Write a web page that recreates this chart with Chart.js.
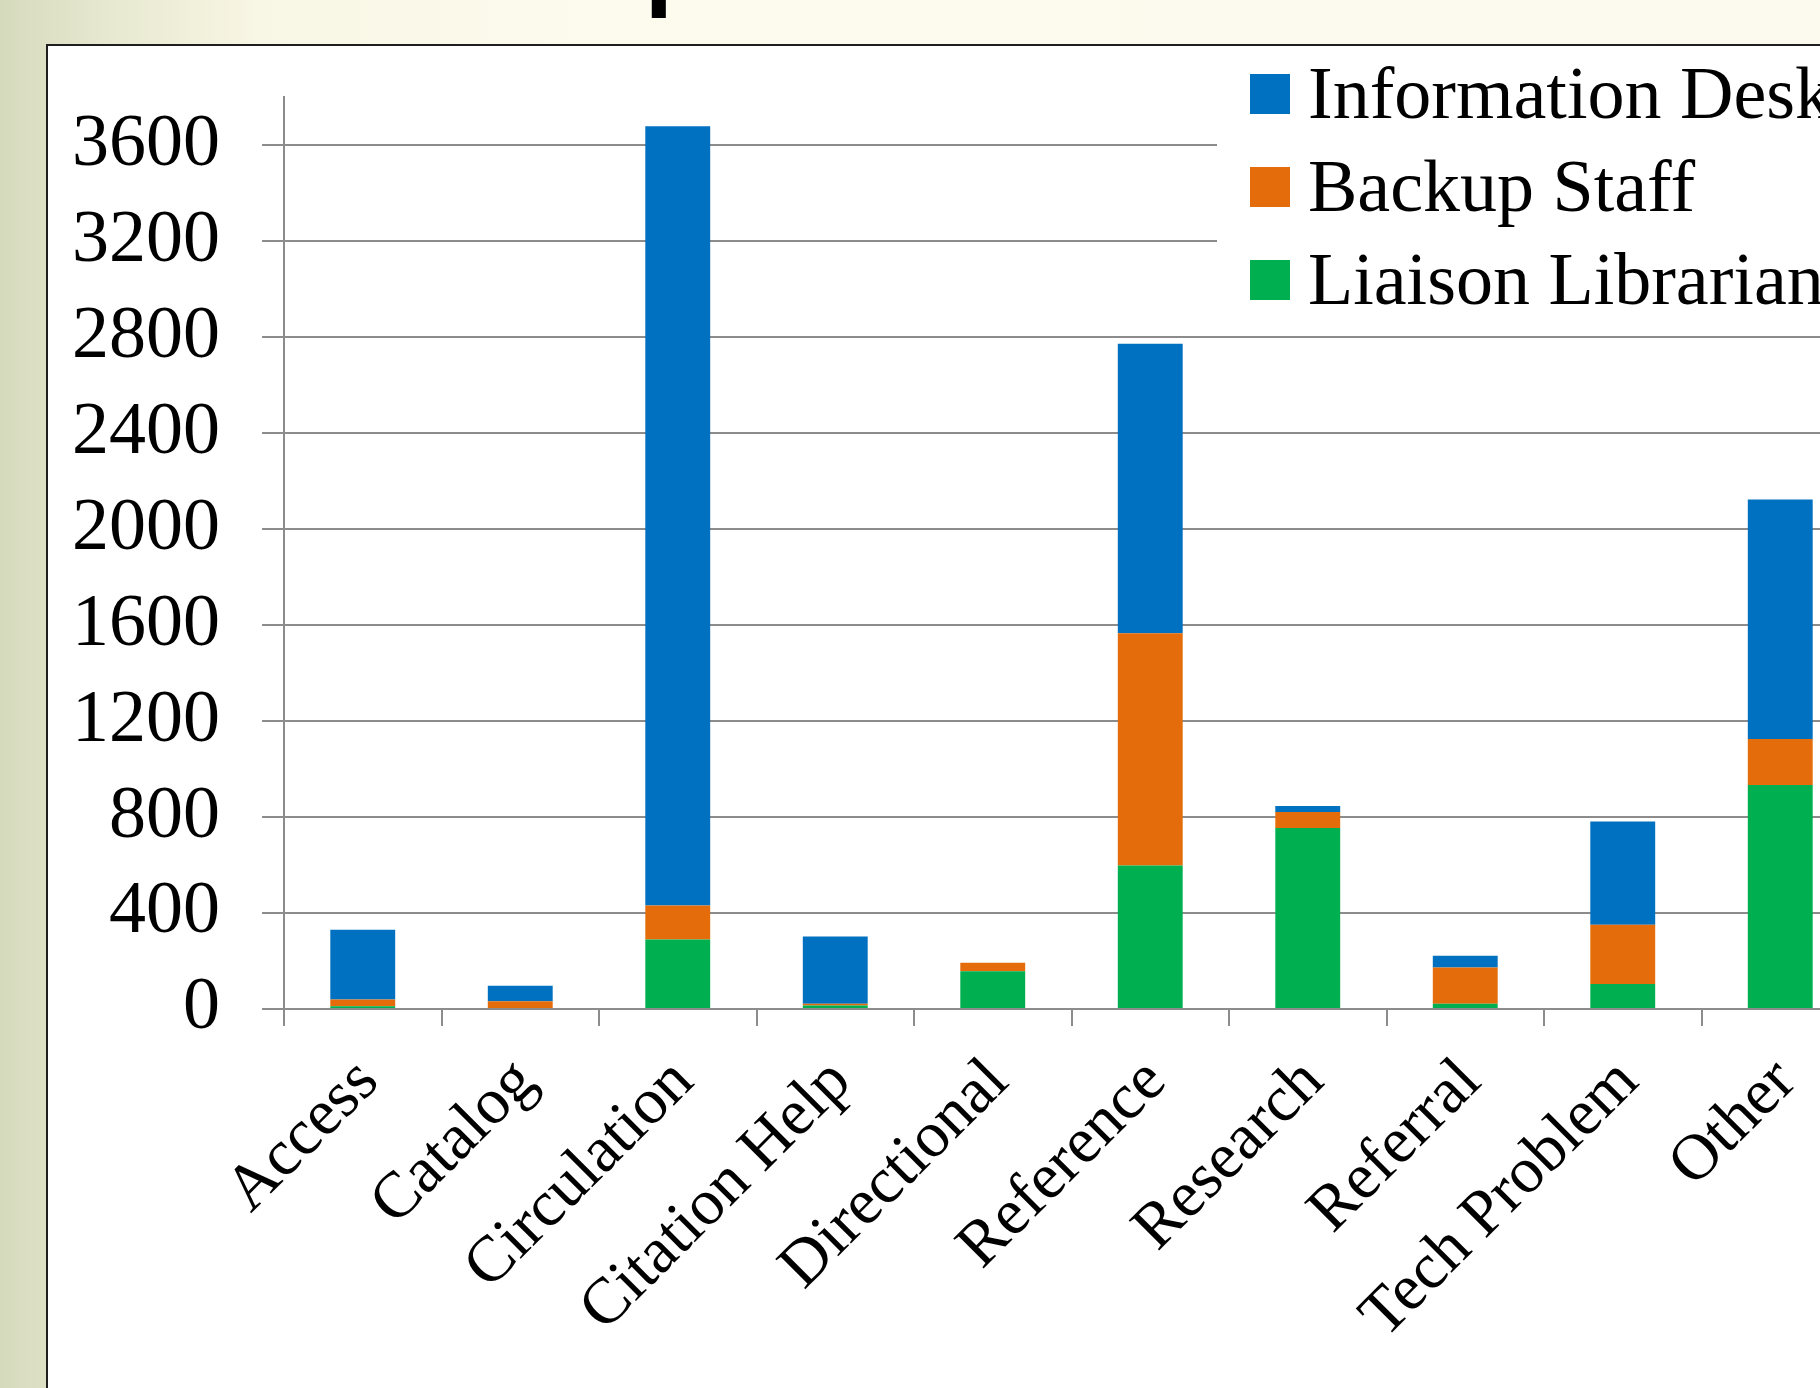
<!DOCTYPE html>
<html>
<head>
<meta charset="utf-8">
<script src="https://cdn.jsdelivr.net/npm/chart.js@4.4.1/dist/chart.umd.min.js"></script>
<style>
  html, body {
    margin: 0;
    padding: 0;
  }
  body {
    width: 1820px;
    height: 1388px;
    overflow: hidden;
    position: relative;
    background: linear-gradient(90deg, #d6dabd 0px, #e9ead2 120px, #f8f6e4 260px, #fdfbee 600px, #fcfaee 1820px);
  }
  .title-mark {
    position: absolute;
    left: 641px;
    top: -150px;
    font-family: "Liberation Sans", sans-serif;
    font-size: 160px;
    line-height: 160px;
    color: #000;
  }
  .frame {
    position: absolute;
    left: 46px;
    top: 44px;
    width: 1900px;
    height: 1500px;
    background: #fff;
    border-left: 2px solid #1e1e1e;
    border-top: 2px solid #1e1e1e;
  }
  #chart {
    position: absolute;
    left: 48px;
    top: 11px;
  }
  .legend {
    position: absolute;
    left: 1217px;
    top: 50px;
    width: 700px;
    height: 268px;
    background: #fff;
    font-family: "Liberation Serif", serif;
    font-size: 74px;
    color: #000;
  }
  .legend-item {
    position: absolute;
    left: 33px;
    height: 93px;
    white-space: nowrap;
  }
  .legend-item span.box {
    position: absolute;
    left: 0;
    top: 24px;
    width: 40px;
    height: 40px;
  }
  .legend-item span.text {
    position: absolute;
    left: 58px;
    top: 0;
    line-height: 86px;
  }
</style>
</head>
<body>
<div class="title-mark">p</div>
<div class="frame"></div>
<canvas id="chart" width="1811" height="1377"></canvas>
<div class="legend" id="legend"></div>
<script>
const categories = ['Access', 'Catalog', 'Circulation', 'Citation Help', 'Directional',
  'Reference', 'Research', 'Referral', 'Tech Problem', 'Other'];

// stacked bottom to top
const liaisonLibrarian = [11, 4, 290, 15, 157, 598, 755, 22, 104, 934];
const backupStaff = [29, 28, 141, 7, 36, 968, 66, 151, 247, 191];
const informationDesk = [290, 65, 3249, 280, 0, 1207, 25, 49, 431, 999];

const yTicks = [0, 400, 800, 1200, 1600, 2000, 2400, 2800, 3200, 3600];
const yMax = 3800;

const gridGray = '#8c8c8c';
const serif = 'Liberation Serif';

const datasets = [
  { label: 'Liaison Librarian', data: liaisonLibrarian, backgroundColor: '#00b050' },
  { label: 'Backup Staff', data: backupStaff, backgroundColor: '#e46c0a' },
  { label: 'Information Desk', data: informationDesk, backgroundColor: '#0070c0' }
];

const ctx = document.getElementById('chart').getContext('2d');
const chart = new Chart(ctx, {
  type: 'bar',
  data: {
    labels: categories,
    datasets: datasets.map(d => Object.assign({}, d, {
      categoryPercentage: 1,
      barPercentage: 0.412,
      borderWidth: 0
    }))
  },
  options: {
    responsive: false,
    animation: false,
    layout: {
      padding: { top: 0, left: 0, right: 0, bottom: 0 }
    },
    scales: {
      x: {
        stacked: true,
        grid: {
          offset: true,
          drawOnChartArea: false,
          drawTicks: true,
          tickLength: 17,
          color: gridGray,
          lineWidth: 2
        },
        border: { display: true, color: gridGray, width: 2 },
        ticks: {
          autoSkip: false,
          maxRotation: 45,
          minRotation: 45,
          padding: 18,
          labelOffset: 6,
          color: '#000',
          font: { family: serif, size: 65 }
        },
        afterFit: function(scale) {
          scale.height = 379;
        }
      },
      y: {
        stacked: true,
        min: 0,
        max: yMax,
        grid: {
          drawTicks: true,
          tickLength: 22,
          color: gridGray,
          lineWidth: 2
        },
        border: { display: true, color: gridGray, width: 2 },
        ticks: {
          padding: 42,
          color: '#000',
          font: { family: serif, size: 74 },
          callback: function(value) {
            return String(value);
          }
        },
        afterBuildTicks: function(scale) {
          scale.ticks = yTicks.map(v => ({ value: v }));
        },
        afterFit: function(scale) {
          scale.width = 236;
        }
      }
    },
    plugins: {
      legend: { display: false },
      tooltip: { enabled: false }
    }
  }
});

// legend, listed top series first like the original
const legendEl = document.getElementById('legend');
datasets.slice().reverse().forEach((d, i) => {
  const item = document.createElement('div');
  item.className = 'legend-item';
  item.style.top = (i * 93) + 'px';
  item.innerHTML = '<span class="box" style="background:' + d.backgroundColor + '"></span>' +
    '<span class="text">' + d.label + '</span>';
  legendEl.appendChild(item);
});
</script>
</body>
</html>
